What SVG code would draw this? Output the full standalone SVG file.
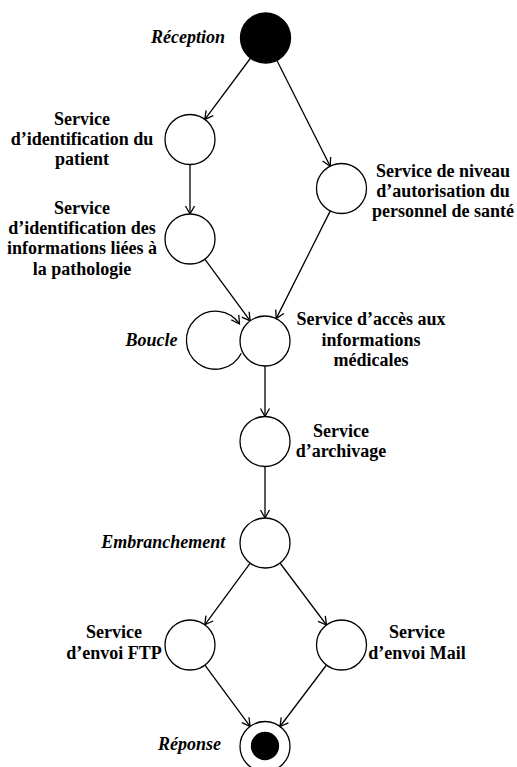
<svg xmlns="http://www.w3.org/2000/svg" width="517" height="767" viewBox="0 0 517 767">
<style>
  .node{fill:#fff;stroke:#000;stroke-width:1.3}
  .fill{fill:#000;stroke:#000;stroke-width:1.3}
  .lbl{font-family:"Liberation Serif","Times New Roman",serif;font-weight:bold;font-size:18px;fill:#000}
  .c{text-anchor:middle}
  .it{font-style:italic;text-anchor:end}
  .edge{fill:none;stroke:#000;stroke-width:1.3;marker-end:url(#arr)}
</style>
<defs>
  <marker id="arr" markerUnits="userSpaceOnUse" viewBox="-10 -6 12 12" refX="0" refY="0" markerWidth="12" markerHeight="12" orient="auto">
    <path d="M-8,-4.5 L0,0 L-8,4.5" fill="none" stroke="#000" stroke-width="1.3"/>
  </marker>
</defs>
<rect width="517" height="767" fill="#fff"/>
<g id="connectors">
  <line class="edge" x1="250.6" y1="58" x2="204.9" y2="119.4"/>
  <line class="edge" x1="276.8" y1="60.3" x2="330.2" y2="166.2"/>
  <line class="edge" x1="190" y1="164.5" x2="190" y2="214"/>
  <line class="edge" x1="330.3" y1="210.9" x2="276.2" y2="318.6"/>
  <line class="edge" x1="204.8" y1="259.2" x2="250.2" y2="320.9"/>
  <path class="edge" d="M241.3,353.3 A29,29 0 1 1 239.5,324"/>
  <line class="edge" x1="265" y1="366" x2="265" y2="416.5"/>
  <line class="edge" x1="265" y1="466.5" x2="265" y2="518"/>
  <line class="edge" x1="250.2" y1="563.2" x2="204.8" y2="624.8"/>
  <line class="edge" x1="280" y1="563" x2="326.5" y2="625"/>
  <line class="edge" x1="204.9" y1="665.1" x2="250.1" y2="726.4"/>
  <line class="edge" x1="326.5" y1="665" x2="280" y2="726.5"/>
</g>
<g id="reception">
  <circle class="fill" cx="265.5" cy="38" r="25"/>
  <text class="lbl it" x="225" y="42.5">Réception</text>
</g>
<g id="identification-patient">
  <circle class="node" cx="190" cy="139.5" r="25"/>
  <text class="lbl c" x="82" y="124.5">Service</text>
  <text class="lbl c" x="82" y="145">d’identification du</text>
  <text class="lbl c" x="82" y="165">patient</text>
</g>
<g id="niveau-autorisation">
  <circle class="node" cx="341.5" cy="188.5" r="25"/>
  <text class="lbl c" x="443" y="176.5">Service de niveau</text>
  <text class="lbl c" x="443" y="196.7">d’autorisation du</text>
  <text class="lbl c" x="443" y="216.7">personnel de santé</text>
</g>
<g id="identification-pathologie">
  <circle class="node" cx="190" cy="239" r="25"/>
  <text class="lbl c" x="82" y="213.5">Service</text>
  <text class="lbl c" x="82" y="234">d’identification des</text>
  <text class="lbl c" x="82" y="254.3">informations liées à</text>
  <text class="lbl c" x="82" y="274.5">la pathologie</text>
</g>
<g id="acces-informations">
  <circle class="node" cx="265" cy="341" r="25"/>
  <text class="lbl c" x="371" y="325">Service d’accès aux</text>
  <text class="lbl c" x="371" y="345.5">informations</text>
  <text class="lbl c" x="371" y="366">médicales</text>
</g>
<g id="boucle">
  <text class="lbl it" x="177.5" y="345.7">Boucle</text>
</g>
<g id="archivage">
  <circle class="node" cx="265" cy="441.5" r="25"/>
  <text class="lbl c" x="341" y="436.7">Service</text>
  <text class="lbl c" x="341" y="456.7">d’archivage</text>
</g>
<g id="embranchement">
  <circle class="node" cx="265" cy="543" r="25"/>
  <text class="lbl it" x="225.3" y="548.3">Embranchement</text>
</g>
<g id="envoi-ftp">
  <circle class="node" cx="190" cy="645" r="25"/>
  <text class="lbl c" x="114" y="638.3">Service</text>
  <text class="lbl c" x="114" y="659.3">d’envoi FTP</text>
</g>
<g id="envoi-mail">
  <circle class="node" cx="341.5" cy="645" r="25"/>
  <text class="lbl c" x="417" y="638.3">Service</text>
  <text class="lbl c" x="417" y="659.3">d’envoi Mail</text>
</g>
<g id="reponse">
  <circle class="node" cx="265" cy="746.5" r="25"/>
  <circle class="fill" cx="265" cy="746" r="13.5"/>
  <text class="lbl it" x="221" y="750">Réponse</text>
</g>
</svg>
